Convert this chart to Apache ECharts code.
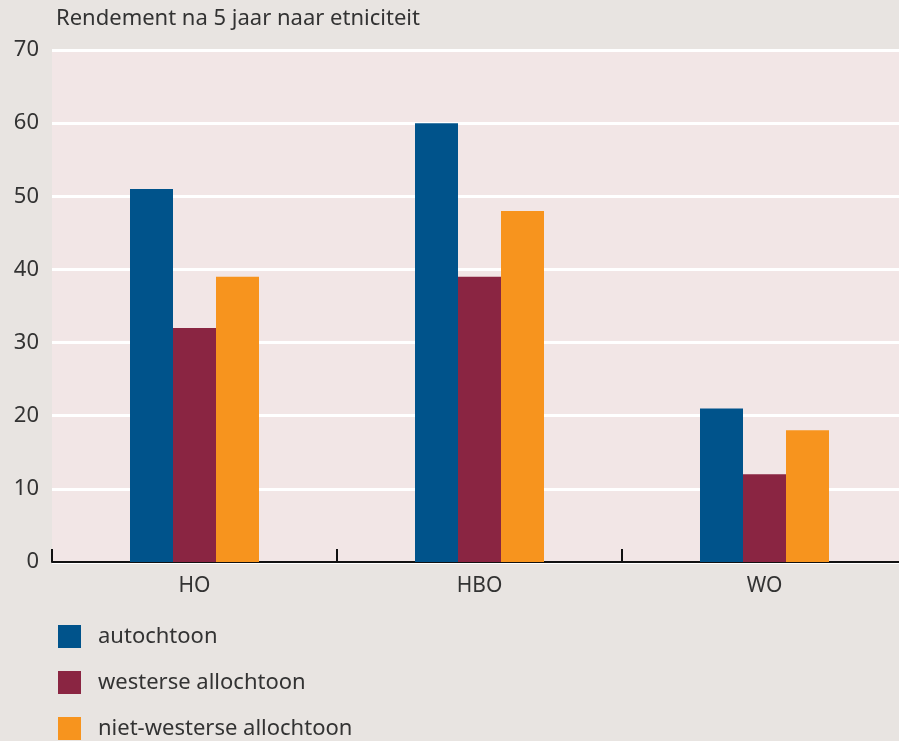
<!DOCTYPE html>
<html>
<head>
<meta charset="utf-8">
<script src="https://cdn.jsdelivr.net/npm/echarts@6/dist/echarts.min.js"></script>
<style>
html,body{margin:0;padding:0;background:#e8e4e1;}
#c{width:899px;height:741px;}
</style>
</head>
<body>
<div id="c"></div>
<script>
const categories = ['HO', 'HBO', 'WO'];
const seriesNames = ['autochtoon', 'westerse allochtoon', 'niet-westerse allochtoon'];
const autochtoon = [51, 60, 21];
const westerseAllochtoon = [32, 39, 12];
const nietWesterseAllochtoon = [39, 48, 18];
const colors = ['#00538b', '#8a2542', '#f7941e'];
const title = 'Rendement na 5 jaar naar etniciteit';

const font = 'Noto Sans';
const chart = echarts.init(document.getElementById('c'), null, {renderer: 'canvas'});
const dataSets = [autochtoon, westerseAllochtoon, nietWesterseAllochtoon];
chart.setOption({
  backgroundColor: '#e8e4e1',
  animation: false,
  title: {
    text: title, left: 51, top: 3,
    textStyle: {fontFamily: font, fontSize: 22, fontWeight: 'normal', color: '#333'}
  },
  legend: {
    orient: 'vertical', left: 53, top: 620, height: 140,
    itemWidth: 23, itemHeight: 23, itemGap: 23,
    icon: 'rect',
    textStyle: {fontFamily: font, fontSize: 22, color: '#333', padding: [0, 0, 0, 12]},
    data: seriesNames
  },
  grid: {
    left: 52, top: 50, width: 855, height: 512,
    outerBoundsMode: 'none', containLabel: false,
    show: true, backgroundColor: '#f2e6e6', borderWidth: 0
  },
  xAxis: {
    type: 'category', data: categories,
    axisLine: {lineStyle: {color: '#111', width: 2}},
    axisTick: {show: true, inside: true, length: 13, lineStyle: {color: '#111', width: 2}},
    axisLabel: {fontFamily: font, fontSize: 21, color: '#333', margin: 14}
  },
  yAxis: {
    type: 'value', min: 0, max: 70, interval: 10,
    axisLine: {show: false}, axisTick: {show: false},
    splitLine: {lineStyle: {color: '#ffffff', width: 3}},
    axisLabel: {fontFamily: font, fontSize: 22, color: '#333', margin: 13}
  },
  series: seriesNames.map((n, i) => ({
    name: n, type: 'bar', data: dataSets[i],
    itemStyle: {color: colors[i]},
    barGap: '0%', barWidth: 43
  }))
});
</script>
</body>
</html>
